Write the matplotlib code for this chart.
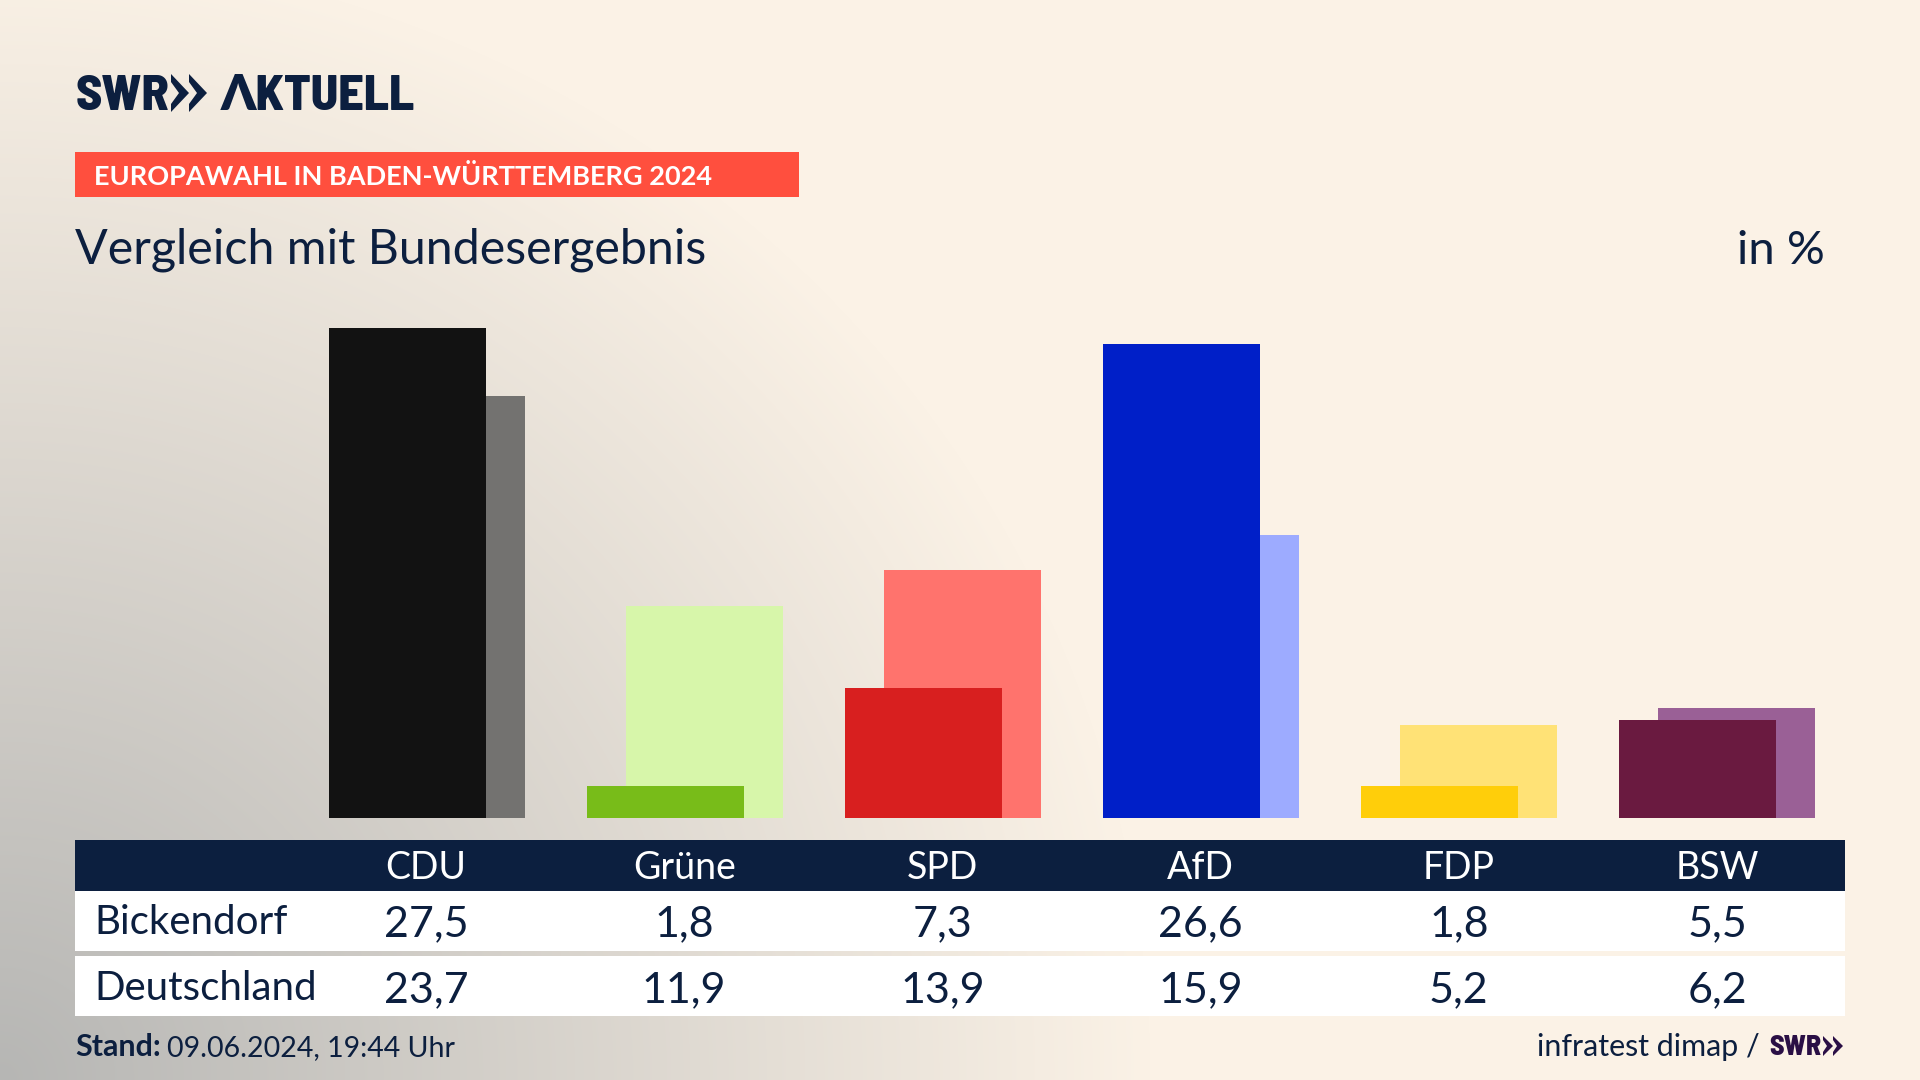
import numpy as np
import matplotlib
matplotlib.use("Agg")
import matplotlib.pyplot as plt
from matplotlib.patches import Polygon, Rectangle

# values from the table
parties = ["CDU", "Grüne", "SPD", "AfD", "FDP", "BSW"]
bickendorf = [27.5, 1.8, 7.3, 26.6, 1.8, 5.5]
deutschland = [23.7, 11.9, 13.9, 15.9, 5.2, 6.2]
colors_dark = ["#121212", "#78BC19", "#D81F1F", "#001FC8", "#FFCE0A", "#6A1A40"]
colors_light = ["#737270", "#D7F6AA", "#FF736D", "#9DABFF", "#FFE276", "#9A6096"]

NAVY = "#0C1F3F"
PURPLE = "#2A0F45"
CREAM = np.array([251, 242, 230]) / 255
GREY = np.array([182, 182, 180]) / 255
LOGO_FONT = ["Barlow Semi Condensed", "Liberation Sans Narrow", "Lato"]

plt.rcParams["font.family"] = ["Lato", "DejaVu Sans"]

fig = plt.figure(figsize=(19.2, 10.8), dpi=100)


def px_axes(left, top, right, bottom, **kw):
    return fig.add_axes([left / 1920, 1 - bottom / 1080, (right - left) / 1920, (bottom - top) / 1080], **kw)


# --- background gradient from the lower left corner ---
bg = px_axes(0, 0, 1920, 1080, zorder=0)
yy, xx = np.mgrid[0:1080, 0:1920]
r = np.sqrt((xx / 1150) ** 2 + ((1080 - yy) / 1130) ** 2)
t = np.clip(1 - r, 0, 1)[..., None]
bg.imshow(CREAM + (GREY - CREAM) * t, aspect="auto", extent=(0, 1920, 1080, 0))
bg.axis("off")

# --- bars ---
ax = px_axes(298, 283.5, 1846, 818, zorder=1)
ax.patch.set_alpha(0)
x = np.arange(len(parties))
offset = 39 / 258 / 2
width = 157 / 258
ax.bar(x + offset, deutschland, width=width, color=colors_light, linewidth=0)
ax.bar(x - offset, bickendorf, width=width, color=colors_dark, linewidth=0)
ax.set_xlim(-0.5, 5.5)
ax.set_ylim(0, 30)
ax.axis("off")

# --- everything else in pixel coordinates ---
ov = px_axes(0, 0, 1920, 1080, zorder=2)
ov.set_xlim(0, 1920)
ov.set_ylim(1080, 0)
ov.axis("off")


def chevrons(x0, top, bottom, w, notch, step, color):
    mid = (top + bottom) / 2
    for i in range(2):
        xs = x0 + i * step
        ov.add_patch(Polygon([(xs, top), (xs + w, mid), (xs, bottom), (xs, bottom - notch),
                              (xs + notch, mid), (xs, top + notch)],
                             closed=True, color=color, linewidth=0))


# logo
ov.text(76, 110, "SWR", fontsize=36, fontweight=800, color=NAVY, family=LOGO_FONT, va="baseline")
chevrons(171, 74, 112, 18, 8, 18, NAVY)
ov.text(221, 110, "ΛKTUELL", fontsize=36, fontweight=800, color=NAVY, family=LOGO_FONT, va="baseline")

# banner and title
ov.add_patch(Rectangle((75, 152), 724, 45, color="#FF4F3E", linewidth=0))
ov.text(94, 185, "EUROPAWAHL IN BADEN-WÜRTTEMBERG 2024", fontsize=19.5, fontweight="bold", color="white", va="baseline")
ov.text(75, 264, "Vergleich mit Bundesergebnis", fontsize=34.8, color=NAVY, va="baseline")
ov.text(1825, 264, "in %", fontsize=34, color=NAVY, ha="right", va="baseline")

# table
ov.add_patch(Rectangle((75, 840), 1770, 51, color=NAVY, linewidth=0))
ov.add_patch(Rectangle((75, 891), 1770, 60, color="white", linewidth=0))
ov.add_patch(Rectangle((75, 956), 1770, 60, color="white", linewidth=0))
ov.text(94, 934, "Bickendorf", fontsize=29, color=NAVY, va="baseline")
ov.text(94, 1000, "Deutschland", fontsize=29, color=NAVY, va="baseline")
for i, party in enumerate(parties):
    cx = 426 + i * 258.2
    ov.text(cx, 879, party, fontsize=27, color="white", ha="center", va="baseline")
    ov.text(cx, 936, f"{bickendorf[i]:.1f}".replace(".", ","), fontsize=31, color=NAVY, ha="center", va="baseline")
    ov.text(cx, 1002, f"{deutschland[i]:.1f}".replace(".", ","), fontsize=31, color=NAVY, ha="center", va="baseline")

# footer
ov.text(75, 1056, "Stand:", fontsize=22, fontweight="bold", color=NAVY, va="baseline")
ov.text(167, 1056, "09.06.2024, 19:44 Uhr", fontsize=20.5, color=NAVY, va="baseline")
ov.text(1760, 1056, "infratest dimap /", fontsize=21.9, color=NAVY, ha="right", va="baseline")
ov.text(1769, 1055, "SWR", fontsize=20, fontweight=800, color=PURPLE, family=LOGO_FONT, va="baseline")
chevrons(1823, 1036, 1056, 10, 4, 10, PURPLE)

fig.savefig("out.png", dpi=100)
